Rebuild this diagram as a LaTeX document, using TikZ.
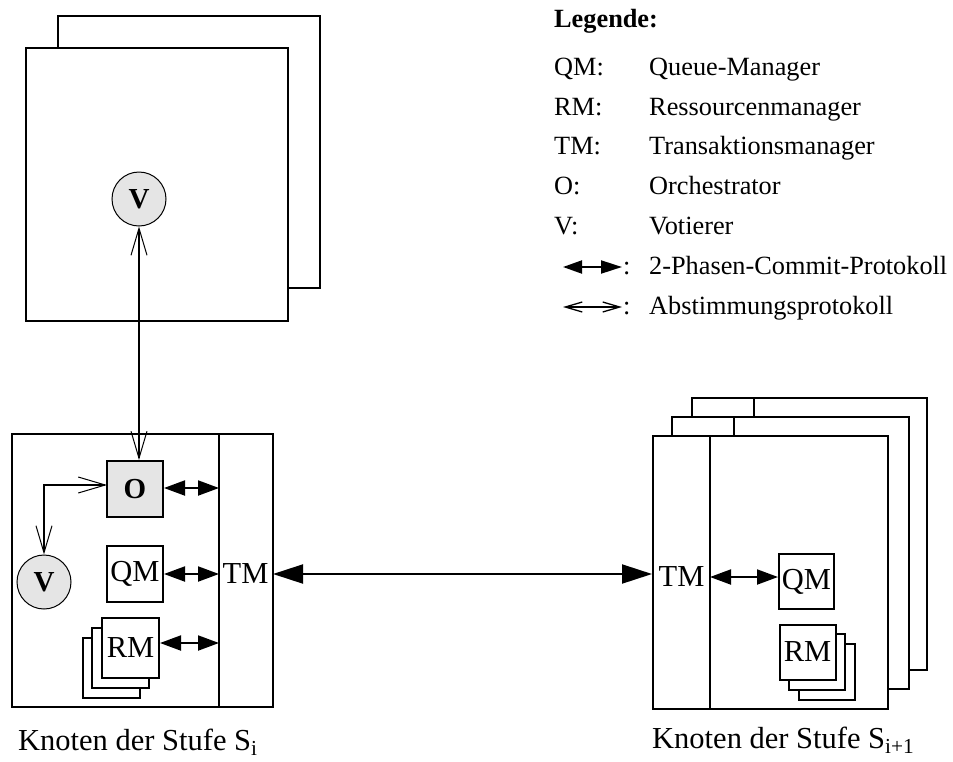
\documentclass[tikz,border=0pt]{standalone}
\usepackage{fontspec}
\setmainfont{Liberation Serif}
\usetikzlibrary{arrows.meta}
\begin{document}
\begin{tikzpicture}[x=1pt,y=-1pt,
  thickln/.style={line width=2pt},
  box/.style={draw,line width=2pt,fill=white,inner sep=0pt,rectangle},
  gbox/.style={box,fill=black!10},
  voter/.style={draw,circle,line width=1pt,fill=black!10,minimum size=54pt,inner sep=0pt,font=\fontsize{29}{30}\selectfont\bfseries},
  lbl/.style={inner sep=0pt,font=\fontsize{30.5}{32}\selectfont},
  leg/.style={inner sep=0pt,anchor=base west,font=\fontsize{26.3}{28}\selectfont},
  twopc/.style={line width=2pt,{Triangle[length=21pt,width=15pt]}-{Triangle[length=21pt,width=15pt]}},
  bigtwopc/.style={line width=2pt,{Triangle[length=30pt,width=19pt]}-{Triangle[length=30pt,width=19pt]}},
  abst/.style={line width=2pt,{Straight Barb[length=27pt,width=16pt,line width=1pt]}-{Straight Barb[length=27pt,width=16pt,line width=1pt]}}
]
\useasboundingbox[fill=white] (0,0) rectangle (953,761);

% ---------- top-left node ----------
\node[box,minimum width=262pt,minimum height=272pt] (TLback) at (189,152) {};
\node[box,minimum width=262pt,minimum height=273pt] (TLfront) at (157,184.5) {};
\node[voter] (VT) at (139,199) {V};

% ---------- left node (Stufe S_i) ----------
\node[box,minimum width=261pt,minimum height=273pt] (LN) at (142.5,570.5) {};
\coordinate (LTMtop) at (219,434);
\draw[thickln] (LTMtop) -- (LTMtop |- LN.south);
\node[lbl] (TML) at (245.5,574) {TM};
\node[gbox,minimum width=56pt,minimum height=56pt,font=\fontsize{29}{30}\selectfont\bfseries] (O) at (135,489) {O};
\node[box,minimum width=56pt,minimum height=56pt,font=\fontsize{30.5}{32}\selectfont] (QM) at (135,574) {QM};
\node[box,minimum width=57pt,minimum height=60pt] (RM3) at (111.5,668) {};
\node[box,minimum width=57pt,minimum height=60pt] (RM2) at (120.5,658) {};
\node[box,minimum width=57pt,minimum height=60pt,font=\fontsize{30.5}{32}\selectfont] (RM1) at (130.5,648) {RM};
\node[voter] (VL) at (44,582) {V};

\coordinate (tmO) at (219,488);
\coordinate (tmQ) at (219,574);
\coordinate (tmR) at (219,643);
\draw[twopc] (O.east |- tmO) -- (tmO);
\draw[twopc] (QM.east |- tmQ) -- (tmQ);
\draw[twopc] (RM1.east |- tmR) -- (tmR);

\draw[abst] (VT.south) -- (VT.south |- O.north);
\coordinate (Oin) at (107,485);
\draw[abst] (VL.north) |- (Oin);

% ---------- right node (Stufe S_{i+1}) ----------
\node[box,minimum width=235pt,minimum height=272pt] (R3) at (809.5,534) {};
\draw[thickln] ([xshift=63pt]R3.north west) -- ([xshift=63pt]R3.south west);
\node[box,minimum width=237pt,minimum height=272pt] (R2) at (790.5,553) {};
\draw[thickln] ([xshift=63pt]R2.north west) -- ([xshift=63pt]R2.south west);
\node[box,minimum width=235pt,minimum height=273pt] (R1) at (770.5,572.5) {};
\coordinate (RTMtop) at (710,436);
\draw[thickln] (RTMtop) -- (RTMtop |- R1.south);
\node[lbl] (TMR) at (681.5,577) {TM};
\node[box,minimum width=55pt,minimum height=55pt,font=\fontsize{30.5}{32}\selectfont] (QMR) at (806.5,581.5) {QM};
\node[box,minimum width=56pt,minimum height=56pt] (RMR3) at (826.5,671.5) {};
\node[box,minimum width=56pt,minimum height=56pt] (RMR2) at (817,661.5) {};
\node[box,minimum width=56pt,minimum height=55pt,font=\fontsize{30.5}{32}\selectfont] (RMR1) at (807.5,652) {RM};

\coordinate (tmQR) at (710,577);
\draw[twopc] (tmQR) -- (QMR.west |- tmQR);

% ---------- main 2PC connection ----------
\coordinate (mA) at (273,574);
\draw[bigtwopc] (mA) -- (mA -| R1.west);

% ---------- captions ----------
\node[leg,font=\fontsize{30.5}{32}\selectfont] (capL) at (18,750) {Knoten der Stufe S\textsubscript{i}};
\node[leg,font=\fontsize{30.5}{32}\selectfont] (capR) at (652,748) {Knoten der Stufe S\textsubscript{i+1}};

% ---------- legend ----------
\node[leg,font=\fontsize{26.3}{28}\selectfont\bfseries] (legT) at (554,27) {Legende:};
\node[leg] (l1) at (554,75) {QM:};  \node[leg] (d1) at (649,75) {Queue-Manager};
\node[leg] (l2) at (554,115) {RM:}; \node[leg] (d2) at (649,115) {Ressourcenmanager};
\node[leg] (l3) at (554,154) {TM:}; \node[leg] (d3) at (649,154) {Transaktionsmanager};
\node[leg] (l4) at (554,194) {O:};  \node[leg] (d4) at (649,194) {Orchestrator};
\node[leg] (l5) at (554,234) {V:};  \node[leg] (d5) at (649,234) {Votierer};
\coordinate (a1s) at (563,267); \coordinate (a1e) at (622,267);
\draw[line width=2pt,{Triangle[length=19pt,width=13pt]}-{Triangle[length=21pt,width=13pt]}] (a1s) -- (a1e);
\node[leg] (c6) at (623,274) {:}; \node[leg] (d6) at (649,274) {2-Phasen-Commit-Protokoll};
\coordinate (a2s) at (563,307); \coordinate (a2e) at (622,307);
\draw[line width=1.3pt,{Straight Barb[length=17pt,width=10pt,line width=1.3pt]}-{Straight Barb[length=17pt,width=10pt,line width=1.3pt]}] (a2s) -- (a2e);
\node[leg] (c7) at (623,314) {:}; \node[leg] (d7) at (649,314) {Abstimmungsprotokoll};
\end{tikzpicture}
\end{document}
